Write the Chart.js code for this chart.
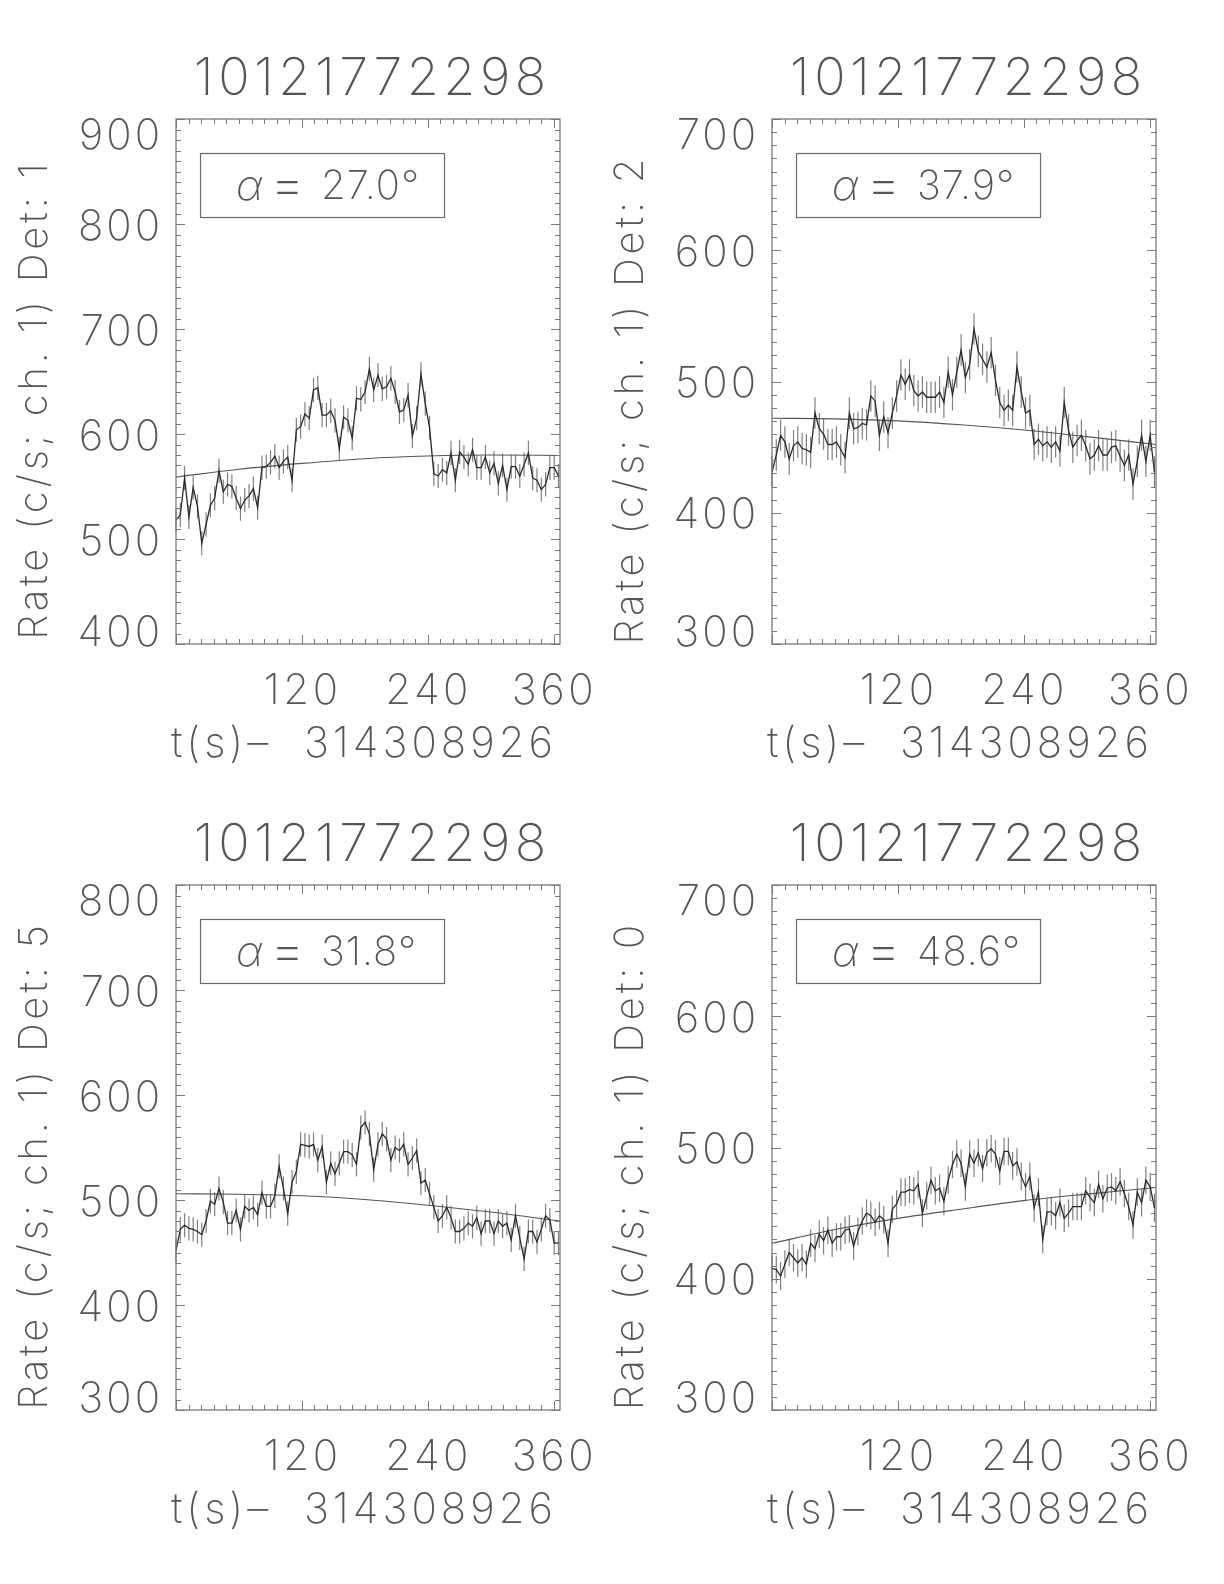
<!DOCTYPE html>
<html>
<head>
<meta charset="utf-8">
<title>10121772298 light curves</title>
<script src="https://cdn.jsdelivr.net/npm/chart.js@4/dist/chart.umd.min.js"></script>
<style>
  html, body { margin: 0; padding: 0; background: #fff; }
  #page { position: relative; width: 1224px; height: 1584px; overflow: hidden; }
  #page canvas { position: absolute; }
</style>
</head>
<body>
<div id="page"></div>
<script>
// Burst id and time offset shown on every panel
const burstId = '10121772298';
const timeOffset = '314308926';
const binWidth = 4.096;

// Rates (c/s, channel 1), one value per 4.096 s bin
const det1Rate = [
  518, 523, 558, 521, 549, 531, 496, 514, 532, 539,
  565, 545, 552, 550, 539, 529, 537, 541, 548, 530,
  568, 569, 573, 579, 568, 574, 578, 556, 604, 607,
  619, 615, 642, 644, 618, 618, 622, 613, 586, 616,
  613, 596, 634, 633, 640, 662, 642, 656, 643, 645,
  653, 640, 621, 623, 637, 598, 615, 657, 629, 606,
  562, 560, 566, 563, 582, 556, 583, 578, 571, 585,
  568, 568, 578, 563, 572, 553, 570, 547, 569, 569,
  560, 571, 582, 558, 556, 547, 552, 568, 568, 560
];
const det2Rate = [
  431, 444, 459, 454, 441, 451, 454, 449, 448, 446,
  476, 464, 460, 452, 452, 454, 448, 442, 476, 464,
  465, 468, 467, 489, 485, 459, 473, 461, 476, 489,
  505, 498, 505, 493, 489, 492, 488, 488, 488, 492,
  484, 507, 490, 507, 524, 503, 513, 540, 523, 517,
  511, 522, 501, 484, 478, 482, 478, 511, 492, 476,
  478, 452, 456, 451, 454, 450, 454, 447, 484, 463,
  450, 455, 459, 451, 441, 444, 451, 444, 444, 450,
  451, 443, 436, 444, 422, 439, 459, 439, 459, 431
];
const det5Rate = [
  452, 472, 476, 473, 472, 470, 467, 480, 499, 496,
  511, 498, 478, 478, 490, 472, 494, 490, 493, 486,
  507, 494, 494, 504, 532, 511, 487, 517, 527, 553,
  552, 551, 553, 538, 551, 517, 535, 525, 535, 546,
  546, 543, 534, 569, 574, 563, 529, 553, 563, 558,
  538, 550, 547, 553, 534, 540, 547, 516, 519, 506,
  493, 480, 485, 493, 483, 470, 470, 473, 478, 475,
  483, 468, 480, 480, 468, 480, 475, 478, 462, 485,
  464, 444, 470, 470, 460, 472, 485, 481, 459, 459
];
const det0Rate = [
  408, 407, 402, 411, 420, 416, 412, 416, 411, 427,
  423, 434, 429, 437, 427, 432, 432, 437, 438, 425,
  436, 444, 450, 448, 443, 448, 445, 427, 453, 457,
  466, 466, 468, 467, 472, 450, 463, 475, 467, 469,
  459, 475, 487, 495, 488, 470, 495, 488, 496, 484,
  496, 499, 495, 482, 497, 497, 486, 489, 478, 470,
  478, 454, 466, 430, 451, 451, 448, 458, 446, 450,
  455, 455, 455, 467, 462, 458, 472, 461, 469, 470,
  467, 474, 465, 455, 441, 466, 458, 475, 470, 454
];

// Half length of the error bars (c/s)
const det1Err = 11.5;
const det2Err = 12;
const det5Err = 11.5;
const det0Err = 10.5;

// Background fit, read at a few times
const fitTimes = [0, 60, 120, 180, 240, 300, 366];
const det1Fit = [559, 566.5, 572, 576.5, 579, 580, 579.5];
const det2Fit = [472, 471.5, 470, 467, 463, 458, 452];
const det5Fit = [506, 505.5, 504, 500.5, 495, 488.5, 480];
const det0Fit = [427, 437.5, 446, 453, 459.5, 464.5, 469.5];

// Axes
const xRange = [0, 366];
const xTickLabels = [120, 240, 360];
const yRanges = [[400, 900], [300, 700], [300, 800], [300, 700]];
const angles = ['27.0', '37.9', '31.8', '48.6'];
const detectors = [1, 2, 5, 0];

const FONT = "'Inter', 'DejaVu Sans', sans-serif";
const TEXT = '#555';

function font(size, extra) {
    return (extra || '') + ' 200 ' + size + 'px ' + FONT;
}

// centred text with letter spacing, trailing gap compensated
function spaced(ctx, str, x, y, gap) {
    ctx.letterSpacing = gap + 'px';
    ctx.fillText(str, x + gap / 2, y);
}

// Draws the IDL style box, ticks, labels, legend and error bars
const idlFrame = {
    id: 'idlFrame',
    beforeDatasetsDraw(chart, args, opts) {
        const ctx = chart.ctx;
        const xs = chart.scales.x, ys = chart.scales.y;
        ctx.save();
        ctx.strokeStyle = '#808080';
        ctx.lineWidth = 1.2;
        ctx.beginPath();
        opts.rates.forEach((v, i) => {
            const px = xs.getPixelForValue(i * binWidth);
            ctx.moveTo(px, ys.getPixelForValue(v - opts.err));
            ctx.lineTo(px, ys.getPixelForValue(v + opts.err));
        });
        ctx.stroke();
        ctx.restore();
    },
    afterDatasetsDraw(chart, args, opts) {
        const ctx = chart.ctx;
        const a = chart.chartArea;
        const xs = chart.scales.x, ys = chart.scales.y;
        const cx = (a.left + a.right) / 2;
        ctx.save();

        // box
        ctx.strokeStyle = '#7a7a7a';
        ctx.lineWidth = 1.3;
        ctx.strokeRect(a.left, a.top, a.right - a.left, a.bottom - a.top);

        // ticks on all four sides
        ctx.lineWidth = 1;
        ctx.beginPath();
        for (let t = xRange[0]; t <= xRange[1]; t += 12) {
            const px = Math.round(xs.getPixelForValue(t)) + 0.5;
            const len = (t % 120 === 0) ? 9 : 5;
            ctx.moveTo(px, a.bottom); ctx.lineTo(px, a.bottom - len);
            ctx.moveTo(px, a.top); ctx.lineTo(px, a.top + len);
        }
        for (let v = opts.yMin; v <= opts.yMax; v += 10) {
            const py = Math.round(ys.getPixelForValue(v)) + 0.5;
            const len = (v % 100 === 0) ? 9 : 5;
            ctx.moveTo(a.left, py); ctx.lineTo(a.left + len, py);
            ctx.moveTo(a.right, py); ctx.lineTo(a.right - len, py);
        }
        ctx.stroke();

        ctx.fillStyle = TEXT;

        // title
        ctx.font = font(52);
        ctx.textAlign = 'center';
        ctx.textBaseline = 'middle';
        spaced(ctx, burstId, cx + 2, a.top - 40, 4.5);

        // x tick labels and axis title
        ctx.font = font(42);
        xTickLabels.forEach(t => {
            spaced(ctx, String(t), xs.getPixelForValue(t) - 1, a.bottom + 47, 3.5);
        });
        spaced(ctx, 't(s)\u2013  ' + timeOffset, cx - 6, a.bottom + 100, 4);

        // y tick labels
        ctx.letterSpacing = '3px';
        ctx.textAlign = 'right';
        ctx.textBaseline = 'middle';
        for (let v = opts.yMin; v <= opts.yMax; v += 100) {
            let py = ys.getPixelForValue(v) + 3;
            if (v === opts.yMax) py = a.top + 17;
            if (v === opts.yMin) py = a.bottom - 11;
            ctx.fillText(String(v), a.left - 13, py);
        }

        // y axis title
        ctx.save();
        ctx.translate(a.left - 141, (a.top + a.bottom) / 2 + 20);
        ctx.rotate(-Math.PI / 2);
        ctx.textAlign = 'center';
        ctx.textBaseline = 'middle';
        ctx.font = font(40);
        spaced(ctx, 'Rate (c/s; ch. 1) Det: ' + opts.det, 0, 0, 3.8);
        ctx.restore();

        // legend box
        ctx.strokeStyle = '#6a6a6a';
        ctx.lineWidth = 1.2;
        ctx.strokeRect(a.left + 24.5, a.top + 34.5, 244, 64);
        ctx.textAlign = 'left';
        ctx.textBaseline = 'middle';
        ctx.letterSpacing = '0px';
        const ly = a.top + 68;
        ctx.font = font(42, 'italic');
        ctx.fillText('\u03b1', a.left + 60, ly);
        ctx.font = font(54);
        ctx.fillText('=', a.left + 94, ly);
        ctx.font = font(40);
        ctx.letterSpacing = '1px';
        ctx.fillText(opts.angle + '\u00b0', a.left + 145, ly);

        ctx.restore();
    }
};

const panels = [
    { rates: det1Rate, err: det1Err, fit: det1Fit, left: 176, top: 119 },
    { rates: det2Rate, err: det2Err, fit: det2Fit, left: 772, top: 119 },
    { rates: det5Rate, err: det5Err, fit: det5Fit, left: 176, top: 885 },
    { rates: det0Rate, err: det0Err, fit: det0Fit, left: 772, top: 885 }
];

const page = document.getElementById('page');

panels.forEach((p, k) => {
    const canvas = document.createElement('canvas');
    canvas.width = 612;
    canvas.height = 792;
    canvas.style.left = (p.left - 176) + 'px';
    canvas.style.top = (p.top - 119) + 'px';
    page.appendChild(canvas);

    const points = p.rates.map((v, i) => ({ x: i * binWidth, y: v }));
    const fitPoints = p.fit.map((v, i) => ({ x: fitTimes[i], y: v }));

    new Chart(canvas.getContext('2d'), {
        type: 'line',
        data: {
            datasets: [
                {
                    data: points,
                    borderColor: '#2a2a2a',
                    borderWidth: 1.3,
                    pointRadius: 0,
                    tension: 0
                },
                {
                    data: fitPoints,
                    borderColor: '#555',
                    borderWidth: 1.1,
                    pointRadius: 0,
                    cubicInterpolationMode: 'monotone'
                }
            ]
        },
        options: {
            responsive: false,
            animation: false,
            layout: { padding: { left: 176, top: 119, right: 52, bottom: 148 } },
            scales: {
                x: { type: 'linear', display: false, min: xRange[0], max: xRange[1] },
                y: { type: 'linear', display: false, min: yRanges[k][0], max: yRanges[k][1] }
            },
            plugins: {
                legend: { display: false },
                tooltip: { enabled: false },
                idlFrame: {
                    rates: p.rates,
                    err: p.err,
                    yMin: yRanges[k][0],
                    yMax: yRanges[k][1],
                    det: detectors[k],
                    angle: angles[k]
                }
            }
        },
        plugins: [idlFrame]
    });
});
</script>
</body>
</html>
